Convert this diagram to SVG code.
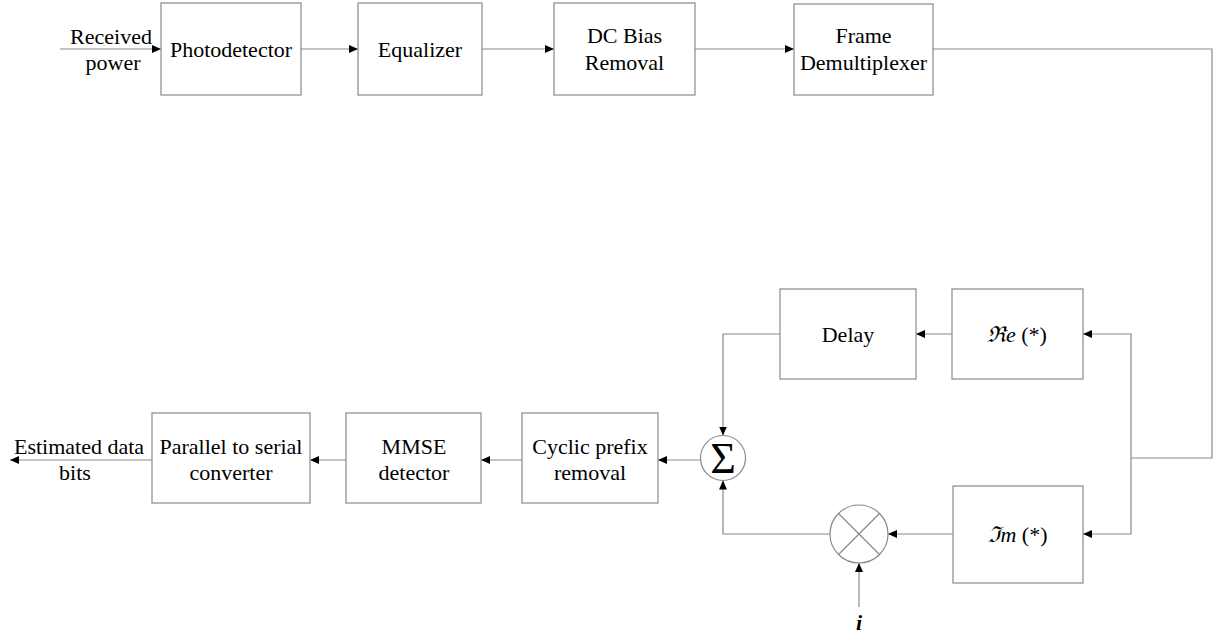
<svg xmlns="http://www.w3.org/2000/svg" width="1214" height="636" viewBox="0 0 1214 636">
<style>
.box{fill:#fff;stroke:#8a8a8a;stroke-width:1.2}
.ln{fill:none;stroke:#8a8a8a;stroke-width:1.2}
text{fill:#000;text-anchor:middle}
</style>
<defs>
<marker id="ah" markerUnits="userSpaceOnUse" markerWidth="10" markerHeight="10" refX="9" refY="5" orient="auto">
<path d="M0,1 L9,5 L0,9 Z" fill="#000"/>
</marker>
</defs>
<rect width="1214" height="636" fill="#fff"/>
<g id="connectors">
<line class="ln" x1="60" y1="49" x2="161" y2="49" marker-end="url(#ah)"/>
<line class="ln" x1="301" y1="49" x2="358" y2="49" marker-end="url(#ah)"/>
<line class="ln" x1="482" y1="49" x2="554" y2="49" marker-end="url(#ah)"/>
<line class="ln" x1="695" y1="49" x2="794" y2="49" marker-end="url(#ah)"/>
<polyline class="ln" points="933,49 1212,49 1212,458 1131,458"/>
<polyline class="ln" points="1131,458 1131,334 1083,334" marker-end="url(#ah)"/>
<polyline class="ln" points="1131,458 1131,534 1083,534" marker-end="url(#ah)"/>
<line class="ln" x1="952" y1="334" x2="916" y2="334" marker-end="url(#ah)"/>
<polyline class="ln" points="780,334 723,334 723,435.5" marker-end="url(#ah)"/>
<line class="ln" x1="953" y1="534" x2="888" y2="534" marker-end="url(#ah)"/>
<polyline class="ln" points="830,534 723,534 723,480.5" marker-end="url(#ah)"/>
<line class="ln" x1="859" y1="607" x2="859" y2="563" marker-end="url(#ah)"/>
<line class="ln" x1="700.5" y1="460" x2="658" y2="460" marker-end="url(#ah)"/>
<line class="ln" x1="522" y1="460" x2="481" y2="460" marker-end="url(#ah)"/>
<line class="ln" x1="346" y1="460" x2="310" y2="460" marker-end="url(#ah)"/>
<line class="ln" x1="152" y1="460" x2="10" y2="460" marker-end="url(#ah)"/>
</g>
<g font-family="'Liberation Serif', 'Times New Roman', Tinos, serif" font-size="22">
<g id="input-label">
<text x="111" y="44">Received</text>
<text x="113" y="70">power</text>
</g>
<g id="photodetector">
<rect class="box" x="161" y="3" width="140" height="92"/>
<text x="231" y="57">Photodetector</text>
</g>
<g id="equalizer">
<rect class="box" x="358" y="3" width="124" height="92"/>
<text x="420" y="57">Equalizer</text>
</g>
<g id="dc-bias-removal">
<rect class="box" x="554" y="3" width="141" height="92"/>
<text x="624.5" y="43">DC Bias</text>
<text x="624.5" y="70">Removal</text>
</g>
<g id="frame-demultiplexer">
<rect class="box" x="794" y="4" width="139" height="91"/>
<text x="863.5" y="43">Frame</text>
<text x="863.5" y="70">Demultiplexer</text>
</g>
<g id="re">
<rect class="box" x="952" y="289" width="131" height="90"/>
<text x="1017" y="342"><tspan font-family="'DejaVu Serif', serif" font-style="italic">ℜ</tspan><tspan font-style="italic">e</tspan> (*)</text>
</g>
<g id="delay">
<rect class="box" x="780" y="289" width="136" height="90"/>
<text x="848" y="342">Delay</text>
</g>
<g id="im">
<rect class="box" x="953" y="486" width="130" height="97"/>
<text x="1018" y="542"><tspan font-family="'DejaVu Serif', serif" font-style="italic">ℑ</tspan><tspan font-style="italic">m</tspan> (*)</text>
</g>
<g id="multiplier">
<circle class="ln" cx="859" cy="534" r="29"/>
<line class="ln" x1="838.5" y1="513.5" x2="879.5" y2="554.5"/>
<line class="ln" x1="879.5" y1="513.5" x2="838.5" y2="554.5"/>
</g>
<g id="i-label">
<text x="859" y="630" font-weight="bold" font-style="italic">i</text>
</g>
<g id="sum">
<circle class="ln" cx="723" cy="458" r="22.5"/>
<text x="723" y="473" font-size="44">Σ</text>
</g>
<g id="cyclic-prefix-removal">
<rect class="box" x="522" y="413" width="136" height="90"/>
<text x="590" y="454">Cyclic prefix</text>
<text x="590" y="480">removal</text>
</g>
<g id="mmse-detector">
<rect class="box" x="346" y="413" width="135" height="90"/>
<text x="414" y="454">MMSE</text>
<text x="414" y="480">detector</text>
</g>
<g id="parallel-to-serial">
<rect class="box" x="152" y="413" width="158" height="90"/>
<text x="231" y="454">Parallel to serial</text>
<text x="231" y="480">converter</text>
</g>
<g id="output-label">
<text x="79" y="454">Estimated data</text>
<text x="75" y="480">bits</text>
</g>
</g>
</svg>
